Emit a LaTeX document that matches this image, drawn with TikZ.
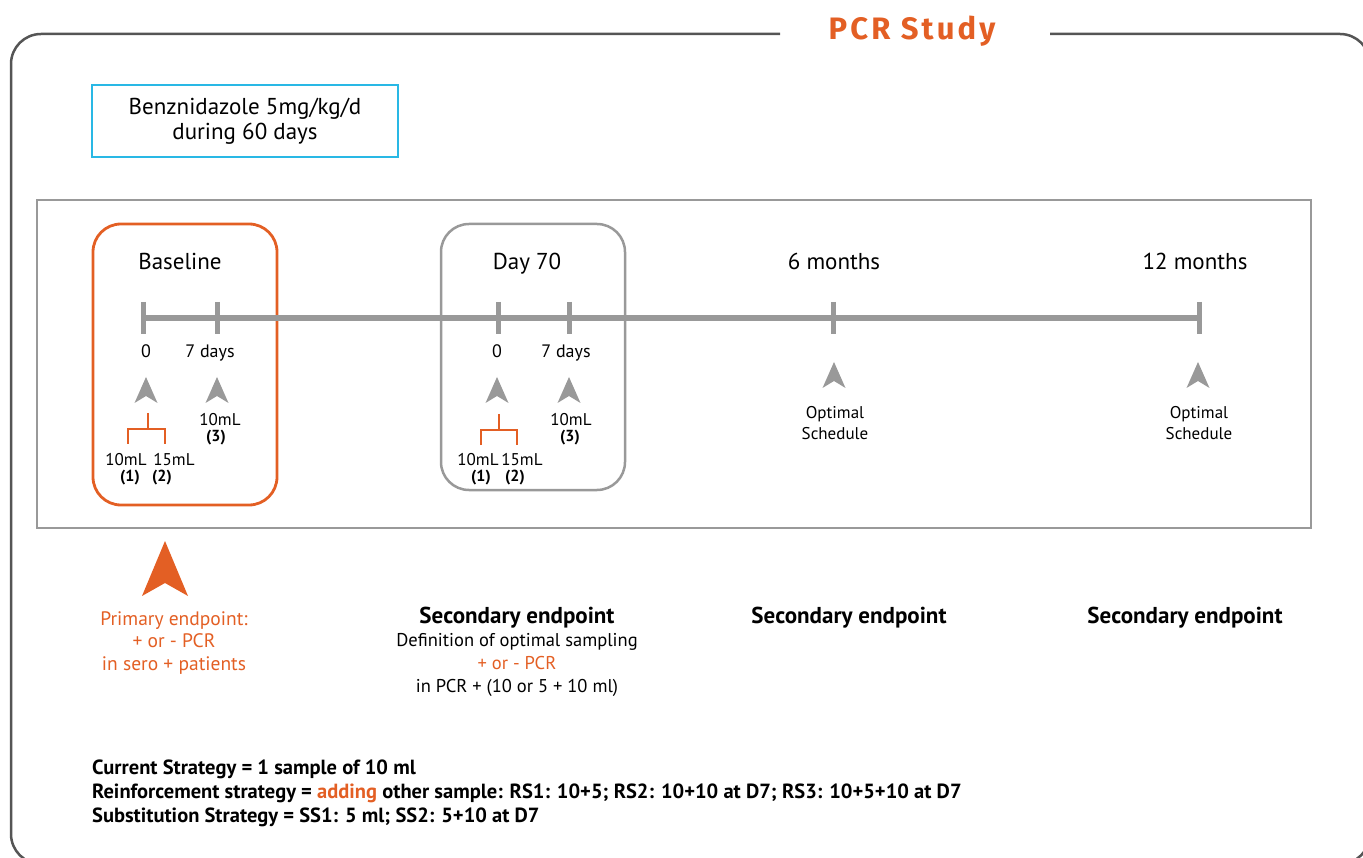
\documentclass[tikz,border=0pt]{standalone}
\usepackage{fontspec}
\setmainfont{PT Sans}
\newfontfamily\titlefont[LetterSpace=10]{Fira Sans}
\definecolor{orng}{HTML}{E35F24}
\definecolor{gry}{HTML}{999999}
\definecolor{dgry}{HTML}{555555}
\definecolor{cyn}{HTML}{29B8E5}
\tikzset{
  x=1pt,y=-1pt,
  frame/.style={draw=dgry,line width=2.5pt},
  lbl/.style={inner sep=0pt,anchor=base,font=\fontsize{23}{26}\selectfont},
  day/.style={inner sep=0pt,anchor=base,font=\fontsize{18}{20}\selectfont},
  sml/.style={inner sep=0pt,font=\fontsize{17}{21}\selectfont,align=center},
  smb/.style={inner sep=0pt,font=\fontsize{16}{18}\selectfont\bfseries},
  tick/.style={draw=gry,line width=5pt},
  brk/.style={draw=orng,line width=1.3pt},
  nav/.style={fill=gry,draw=none},
  ep/.style={inner sep=0pt,font=\fontsize{23}{26}\selectfont\bfseries},
  epl/.style={inner sep=0pt,font=\fontsize{18.5}{23}\selectfont,align=center},
}
\newcommand{\navarrow}[4]{% x, tip y, width, style
  \fill[#4] (#1,#2) -- ({#1+#3/2},{#2+26}) -- (#1,{#2+19}) -- ({#1-#3/2},{#2+26}) -- cycle;}
\begin{document}
\begin{tikzpicture}
\useasboundingbox (0,0) rectangle (1363,858);
\begin{scope}
\clip (0,0) rectangle (1363,858);
\draw[frame,rounded corners=30] (780,34) -- (11,34) -- (11,864) -- (1370,864) -- (1370,34) -- (1050,34);
\end{scope}
\node[inner sep=0pt,text=orng,font=\titlefont\fontsize{31}{33}\selectfont\bfseries] (title) at (912,31) {PCR Study};

% treatment box
\node[draw=cyn,line width=1.8pt,minimum width=306pt,minimum height=72pt,inner sep=0pt,align=center,font=\fontsize{23}{25}\selectfont] (treat) at (245,121) {Benznidazole 5mg/kg/d\\during 60 days};

% timeline frame
\draw[draw=gry,line width=1.5pt] (37,200) rectangle (1311,528);
\draw[draw=orng,line width=2.8pt,rounded corners=28] (93,224) rectangle (277,505);
\draw[draw=gry,line width=2.5pt,rounded corners=28] (441,224) rectangle (625,490);

% timeline
\coordinate (t0) at (143,318);
\coordinate (tend) at (1199,318);
\draw[draw=gry,line width=5.5pt] (t0) -- (tend);
\foreach \xx in {143,217,498,569,833,1199}{
  \draw[tick] (\xx,302) -- (\xx,334);
}

% labels above
\node[lbl] (lb1) at (180,270) {Baseline};
\node[lbl] (lb2) at (527,270) {Day 70};
\node[lbl] (lb3) at (834,270) {6 months};
\node[lbl] (lb4) at (1195,270) {12 months};

% day labels
\node[day] (d1) at (146,358) {0};
\node[day] (d2) at (210,358) {7 days};
\node[day] (d3) at (497,358) {0};
\node[day] (d4) at (566,358) {7 days};

% small arrows
\navarrow{146}{377}{23}{nav}
\navarrow{217}{377}{23}{nav}
\navarrow{497}{377}{23}{nav}
\navarrow{569}{377}{23}{nav}
\navarrow{834}{362}{23}{nav}
\navarrow{1198}{362}{23}{nav}

% brackets
\draw[brk] (148,413) -- (148,429) (128,444) -- (128,429) -- (165,429) -- (165,444);
\draw[brk] (499,414) -- (499,430) (481,445) -- (481,430) -- (517,430) -- (517,445);

% volume labels
\node[sml] (v1) at (126,460) {10mL};
\node[sml] (v2) at (174,460) {15mL};
\node[smb] (n1) at (130,478) {(1)};
\node[smb] (n2) at (162,478) {(2)};
\node[sml] (v3) at (220,420) {10mL};
\node[smb] (n3) at (216,438) {(3)};

\node[sml] (v4) at (478,460) {10mL};
\node[sml] (v5) at (522,460) {15mL};
\node[smb] (n4) at (481,478) {(1)};
\node[smb] (n5) at (515,478) {(2)};
\node[sml] (v6) at (571,420) {10mL};
\node[smb] (n6) at (570,438) {(3)};

\node[sml] (o1) at (835,423) {Optimal\\Schedule};
\node[sml] (o2) at (1199,423) {Optimal\\Schedule};

% primary endpoint arrow
\fill[orng] (165,541) -- (188,596) -- (165,583) -- (142,596) -- cycle;
\node[inner sep=0pt,font=\fontsize{19.5}{22.5}\selectfont,align=center,text=orng] (pe) at (174,643) {Primary endpoint:\\+ or - PCR\\in sero + patients};

% secondary endpoints
\node[ep] (se1) at (517,618) {Secondary endpoint};
\node[epl] (se1b) at (517,665) {Definition of optimal sampling\\\textcolor{orng}{+ or - PCR}\\in PCR + (10 or 5 + 10 ml)};
\node[ep] (se2) at (849,618) {Secondary endpoint};
\node[ep] (se3) at (1185,618) {Secondary endpoint};

% strategies
\node[anchor=west,inner sep=0pt,align=left,font=\fontsize{20.5}{24}\selectfont\bfseries] (strat) at (92,793) {Current Strategy = 1 sample of 10 ml\\Reinforcement strategy = \textcolor{orng}{adding} other sample: RS1: 10+5; RS2: 10+10 at D7; RS3: 10+5+10 at D7\\Substitution Strategy = SS1: 5 ml; SS2: 5+10 at D7};
\end{tikzpicture}
\end{document}
